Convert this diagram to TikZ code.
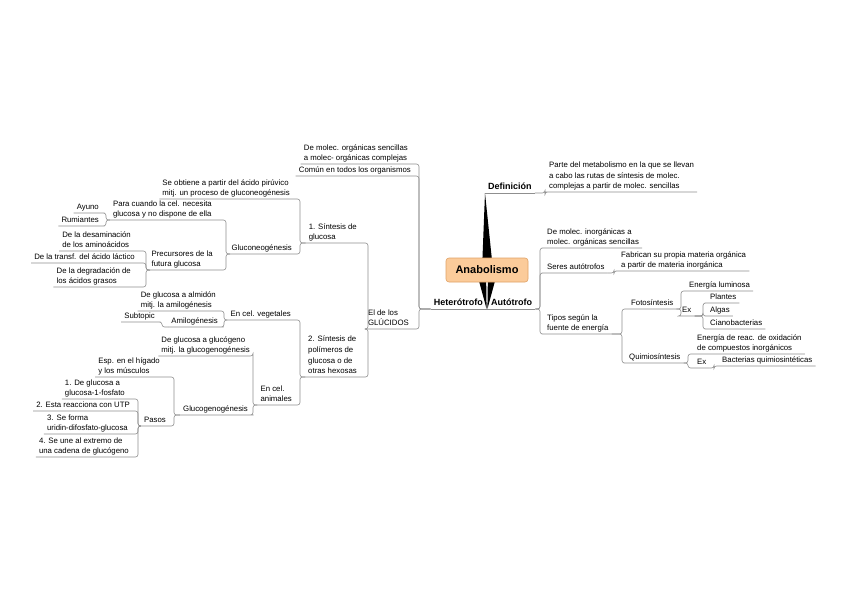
\documentclass[tikz,border=0pt]{standalone}
\usepackage{fontspec}
\setmainfont{Liberation Sans}
\usetikzlibrary{calc,backgrounds}
\definecolor{lg}{HTML}{8F8F8F}
\definecolor{rootfill}{HTML}{FBCB9A}
\definecolor{rootdraw}{HTML}{E0A266}
\newcommand\tf{\fontsize{7.8}{10.6}\selectfont}
\newcommand\lconn[3]{\draw[conn] (#1.south west) -- (#2) |- (#3.south east) -- (#3.south west);}
\newcommand\rconn[3]{\draw[conn] (#1.south east) -- (#2) |- (#3.south west) -- (#3.south east);}
\begin{document}
\begin{tikzpicture}[x=1pt,y=-1pt,
  conn/.style={draw=lg,line width=0.6pt,rounded corners=2.5pt},
  lt/.style={font=\tf,inner xsep=3pt,inner ysep=0pt,align=left,anchor=south east,execute at begin node=\strut,execute at end node=\strut},
  rt/.style={lt,anchor=south west},
  bt/.style={font=\bfseries\fontsize{9}{11}\selectfont,inner xsep=3pt,inner ysep=0pt,execute at end node=\strut},
  root/.style={font=\bfseries\fontsize{11}{13}\selectfont,fill=rootfill,draw=rootdraw,line width=0.6pt,rounded corners=3pt,minimum width=82pt,minimum height=24pt,inner sep=0pt}]
\useasboundingbox (0,0) rectangle (848,599);
% root and main branches
\node[root] (root) at (487,270) {Anabolismo};
\node[bt,anchor=south east] (het) at (486,309) {Heterótrofo};
\node[bt,anchor=south west] (aut) at (488,309) {Autótrofo};
\node[bt,anchor=south west] (def) at (485,193) {Definición};
% left nodes
\node[lt] (demoleo) at (411,164) {De molec. orgánicas sencillas\\a molec- orgánicas complejas};
\node[lt] (comun) at (414,176) {Común en todos los organismos};
\node[lt] (glucidos) at (412,329) {El de los\\GLÚCIDOS};
\node[lt] (sint1) at (360,243) {1. Síntesis de\\glucosa};
\node[lt] (sint2) at (360,377) {2. Síntesis de\\polímeros de\\glucosa o de\\otras hexosas};
\node[lt] (seobt) at (293,199) {Se obtiene a partir del ácido pirúvico\\mitj. un proceso de gluconeogénesis};
\node[lt] (gluconeo) at (295,254) {Gluconeogénesis};
\node[lt] (para) at (215,220) {Para cuando la cel. necesita\\glucosa y no dispone de ella};
\node[lt] (precur) at (216,270) {Precursores de la\\futura glucosa};
\node[lt] (ayuno) at (102,213) {Ayuno};
\node[lt] (rumi) at (102,226) {Rumiantes};
\node[lt] (desam) at (134,251) {De la desaminación\\de los aminoácidos};
\node[lt] (transf) at (138,263) {De la transf. del ácido láctico};
\node[lt] (degrad) at (134,287) {De la degradación de\\los ácidos grasos};
\node[lt] (veget) at (294,320) {En cel. vegetales};
\node[lt] (anim) at (295,405) {En cel.\\animales};
\node[lt] (almidon) at (219,311) {De glucosa a almidón\\mitj. la amilogénesis};
\node[lt] (amilo) at (221,327) {Amilogénesis};
\node[lt] (subt) at (158,322) {Subtopic};
\node[lt] (glucog) at (253,356) {De glucosa a glucógeno\\mitj. la glucogenogénesis};
\node[lt] (glgen) at (251,415) {Glucogenogénesis};
\node[lt] (higado) at (163,377) {Esp. en el hígado\\y los músculos};
\node[lt] (pasos) at (169,426) {Pasos};
\node[lt] (p1) at (128,399) {1. De glucosa a\\glucosa-1-fosfato};
\node[lt] (p2) at (133,411) {2. Esta reacciona con UTP};
\node[lt] (p3) at (131,434) {3. Se forma\\uridin-difosfato-glucosa};
\node[lt] (p4) at (132,457) {4. Se une al extremo de\\una cadena de glucógeno};
% right nodes
\node[rt] (parte) at (546,192) {Parte del metabolismo en la que se llevan\\a cabo las rutas de síntesis de molec.\\complejas a partir de molec. sencillas};
\node[rt] (inorg) at (544,248) {De molec. inorgánicas a\\molec. orgánicas sencillas};
\node[rt] (seres) at (544,273) {Seres autótrofos};
\node[rt] (tipos) at (544,334) {Tipos según la\\fuente de energía};
\node[rt] (fabric) at (618,271) {Fabrican su propia materia orgánica\\a partir de materia inorgánica};
\node[rt] (foto) at (628,309) {Fotosíntesis};
\node[rt] (quimio) at (626,363) {Quimiosíntesis};
\node[rt] (lumin) at (686,291) {Energía luminosa};
\node[rt] (ex1) at (679,316) {Ex};
\node[rt] (plantes) at (707,303) {Plantes};
\node[rt] (algas) at (707,316) {Algas};
\node[rt] (ciano) at (707,329) {Cianobacterias};
\node[rt] (oxid) at (694,354) {Energía de reac. de oxidación\\de compuestos inorgánicos};
\node[rt] (ex2) at (694,368) {Ex};
\node[rt] (bact) at (719,366) {Bacterias quimiosintéticas};
% spine coordinates
\coordinate (sH) at (419,309);
\coordinate (sGl) at (368,329);
\coordinate (sS1) at (300,243);
\coordinate (sS2) at (300,377);
\coordinate (sGn) at (226,254);
\coordinate (sPa) at (106,220);
\coordinate (sPr) at (146,270);
\coordinate (sVe) at (224,320);
\coordinate (sAm) at (162,327);
\coordinate (sAn) at (253,405);
\coordinate (sGg) at (174,415);
\coordinate (sPs) at (138,426);
\coordinate (sD) at (545,193);
\coordinate (sA) at (540,309);
\coordinate (sSe) at (614,273);
\coordinate (sTi) at (622,334);
\coordinate (sFo) at (681,309);
\coordinate (sE1) at (703,316);
\coordinate (sQu) at (688,363);
\coordinate (sE2) at (714,368);
% underlines of main branches
\draw[conn] (het.south west) -- (aut.south east);
\draw[conn] (def.south west) -- (def.south east);
% left connectors
\lconn{het}{sH}{demoleo}
\lconn{het}{sH}{comun}
\lconn{het}{sH}{glucidos}
\lconn{glucidos}{sGl}{sint1}
\lconn{glucidos}{sGl}{sint2}
\lconn{sint1}{sS1}{seobt}
\lconn{sint1}{sS1}{gluconeo}
\lconn{gluconeo}{sGn}{para}
\lconn{gluconeo}{sGn}{precur}
\lconn{para}{sPa}{ayuno}
\lconn{para}{sPa}{rumi}
\lconn{precur}{sPr}{desam}
\lconn{precur}{sPr}{transf}
\lconn{precur}{sPr}{degrad}
\lconn{sint2}{sS2}{veget}
\lconn{sint2}{sS2}{anim}
\lconn{veget}{sVe}{almidon}
\lconn{veget}{sVe}{amilo}
\lconn{amilo}{sAm}{subt}
\lconn{anim}{sAn}{glucog}
\lconn{anim}{sAn}{glgen}
\lconn{glgen}{sGg}{higado}
\lconn{glgen}{sGg}{pasos}
\lconn{pasos}{sPs}{p1}
\lconn{pasos}{sPs}{p2}
\lconn{pasos}{sPs}{p3}
\lconn{pasos}{sPs}{p4}
% right connectors
\rconn{def}{sD}{parte}
\rconn{aut}{sA}{inorg}
\rconn{aut}{sA}{seres}
\rconn{aut}{sA}{tipos}
\rconn{seres}{sSe}{fabric}
\rconn{tipos}{sTi}{foto}
\rconn{tipos}{sTi}{quimio}
\rconn{foto}{sFo}{lumin}
\rconn{foto}{sFo}{ex1}
\rconn{ex1}{sE1}{plantes}
\rconn{ex1}{sE1}{algas}
\rconn{ex1}{sE1}{ciano}
\rconn{quimio}{sQu}{oxid}
\rconn{quimio}{sQu}{ex2}
\rconn{ex2}{sE2}{bact}
% background: white page and tapered branches behind the root
\begin{pgfonlayer}{background}
\fill[white] (0,0) rectangle (848,599);
\fill[black] ($(root.center)+(-5,0)$) -- ($(root.center)+(6,0)$) -- (def.south west) -- cycle;
\fill[black] ($(root.center)+(-11,0)$) -- ($(root.center)+(-1,0)$) -- ($(het.south east)+(0.6,0)$) -- cycle;
\fill[black] ($(root.center)+(1,0)$) -- ($(root.center)+(11,0)$) -- ($(aut.south west)+(-0.6,0)$) -- cycle;
\end{pgfonlayer}
\end{tikzpicture}
\end{document}
